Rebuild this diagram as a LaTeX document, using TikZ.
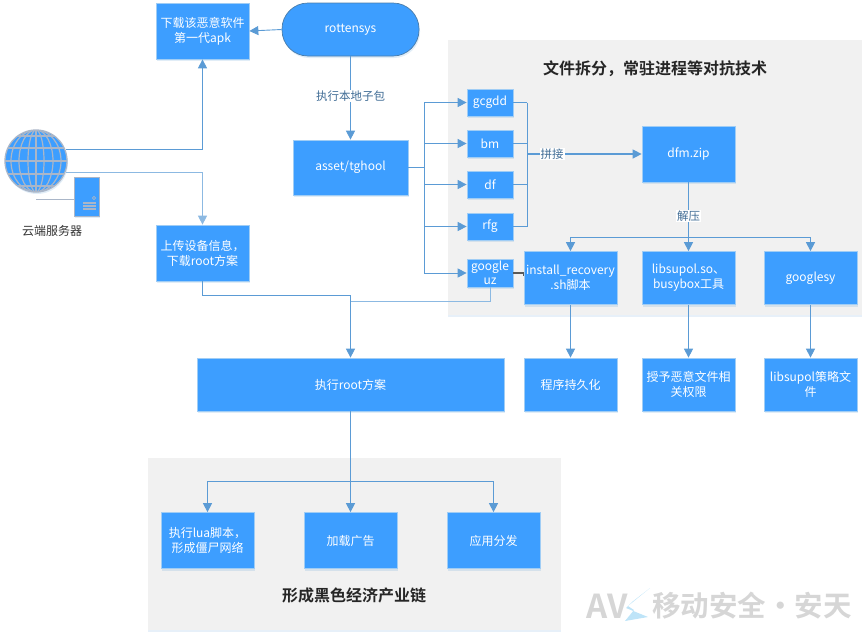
\documentclass[tikz,border=0pt]{standalone}
\usepackage{fontspec}
\setmainfont{Noto Sans CJK SC}[BoldFont={Noto Sans CJK SC Bold}]
\usetikzlibrary{arrows.meta,shadows}
\definecolor{boxblue}{RGB}{61,158,255}
\definecolor{boxedge}{RGB}{160,205,245}
\definecolor{linkblue}{RGB}{91,155,213}
\definecolor{panelgrey}{RGB}{241,241,241}
\definecolor{markgrey}{RGB}{214,214,214}
\definecolor{markblue}{RGB}{190,228,248}
\definecolor{globeline}{RGB}{170,182,200}
\tikzset{
  softshadow/.style={drop shadow={shadow xshift=1pt,shadow yshift=-2pt,opacity=.18,fill=linkblue}},
  bluebox/.style={draw=boxedge,line width=.7pt,fill=boxblue,text=white,inner sep=0pt,align=center,font=\fontsize{12}{15}\selectfont,softshadow},
  bigbox/.style={bluebox,minimum width=93pt,minimum height=56pt},
  medbox/.style={bluebox,minimum width=93pt,minimum height=53pt},
  smallbox/.style={bluebox,minimum width=46pt,minimum height=27pt},
  panel/.style={fill=panelgrey,draw=none,drop shadow={shadow xshift=0pt,shadow yshift=-2pt,opacity=.15,fill=linkblue}},
  link/.style={draw=linkblue,line width=.9pt},
  arrowlink/.style={link,-{Triangle[length=9pt,width=9pt]}},
  linklabel/.style={fill=white,inner sep=1pt,text=linkblue!70!black,font=\fontsize{11.5}{14}\selectfont},
  paneltitle/.style={font=\bfseries\fontsize{16}{20}\selectfont,text=black!85},
}
\begin{document}
\begin{tikzpicture}[x=1pt,y=-1pt]
\useasboundingbox (0,0) rectangle (868,638);
% panels
\path[panel] (448,40) rectangle (862,315);
\path[panel] (148,458) rectangle (561,630);
\node[paneltitle] (title1) at (655,69) {文件拆分，常驻进程等对抗技术};
\node[paneltitle] (title2) at (354,595) {形成黑色经济产业链};

% watermark
\node[font=\bfseries\fontsize{33}{33}\selectfont,text=markgrey,inner sep=0pt] (markav) at (607,606) {AV};
\fill[markblue] (650,588) -- (632,602) -- (626,608) -- (648,617) -- (625,621) -- (634,610) -- (628,606) -- cycle;
\node[font=\bfseries\fontsize{28.5}{28.5}\selectfont,text=markgrey,inner sep=0pt] (marktext) at (752,606) {移动安全·安天};

% boxes
\node[bigbox] (apk) at (202.5,31) {下载该恶意软件\\第一代apk};
\node[bluebox,draw=linkblue!80!black,rounded corners=26pt,minimum width=137pt,minimum height=53pt] (rotten) at (350.5,29.5) {rottensys};
\node[bluebox,minimum width=115pt,minimum height=55pt] (asset) at (350.5,167.5) {asset/tghool};
\node[bigbox] (upload) at (202.5,253) {上传设备信息，\\下载root方案};
\node[smallbox] (gcgdd) at (490,102.5) {gcgdd};
\node[smallbox] (bm) at (490,143.5) {bm};
\node[smallbox] (df) at (490,184.5) {df};
\node[smallbox] (rfg) at (490,226.5) {rfg};
\node[smallbox,minimum height=28pt,font=\fontsize{12}{14}\selectfont] (guz) at (490,273) {google\\uz};
\node[bigbox] (dfm) at (688.5,154) {dfm.zip};
\node[medbox] (install) at (570.5,278) {install\_recovery\\.sh脚本};
\node[medbox] (libs) at (688.5,278) {libsupol.so、\\busybox工具};
\node[medbox] (gsy) at (810.5,278) {googlesy};
\node[medbox] (persist) at (570.5,384.5) {程序持久化};
\node[medbox] (grant) at (688.5,384.5) {授予恶意文件相\\关权限};
\node[medbox] (policy) at (810.5,384.5) {libsupol策略文\\件};
\node[bluebox,minimum width=307pt,minimum height=53pt] (root) at (350.5,384.5) {执行root方案};
\node[bigbox] (lua) at (207.5,540.5) {执行lua脚本，\\形成僵尸网络};
\node[bigbox] (ads) at (350.5,540.5) {加载广告};
\node[bigbox] (dist) at (493.5,540.5) {应用分发};

% globe
\node[circle,fill=boxblue,draw=globeline,line width=1.3pt,minimum size=62pt,inner sep=0pt,softshadow] (globe) at (36,161) {};
\begin{scope}
\clip (36,161) circle (31);
\foreach \rx in {8,17,25}{\draw[globeline,line width=1.2pt] (36,161) ellipse ({\rx} and 31);}
\draw[globeline,line width=1.2pt] (36,130) -- (36,192);
\foreach \yy in {136,148,161,174,186}{\draw[globeline,line width=1.2pt] (5,\yy) -- (67,\yy);}
\end{scope}

% server
\node[bluebox,draw=globeline,minimum width=25pt,minimum height=39pt] (server) at (86.5,196.5) {};
\draw[globeline,line width=.7pt] (94,198) circle (1.7);
\foreach \yy in {203,206,209}{\draw[globeline,line width=1.2pt] (83,\yy) -- (96,\yy);}
\coordinate (servertail) at (36,199.5);
\draw[globeline,line width=.7pt] (servertail) -- (server.west |- servertail);
\node[font=\fontsize{12}{15}\selectfont,text=black!80,inner sep=0pt] (cloud) at (52,231) {云端服务器};

% connectors
\coordinate (g1) at (66,149.5);
\coordinate (g2) at (66,172.5);
\draw[arrowlink] (g1) -| (apk.south);
\draw[arrowlink,draw=linkblue!70!white,line width=1.1pt] (g2) -| (upload.north);
\draw[arrowlink] (rotten.west) -- (apk.east);
\draw[arrowlink] (rotten.south) -- (asset.north) node[pos=.476,linklabel] (runlabel) {执行本地子包};

\coordinate (tl) at (424,167.5);
\draw[link] (asset.east) -- (tl);
\draw[link] (tl |- gcgdd.west) -- (tl |- guz.west);
\foreach \n in {gcgdd,bm,df,rfg,guz}{\draw[arrowlink] (tl |- \n.west) -- (\n.west);}

\coordinate (tr) at (527,154);
\foreach \n in {gcgdd,bm,df,rfg}{\draw[link] (\n.east) -- (tr |- \n.east);}
\draw[link] (tr |- gcgdd.east) -- (tr |- rfg.east);
\draw[arrowlink,line width=1.3pt] (tr) -- (dfm.west) node[pos=.22,linklabel,text=linkblue!70!black] (joinlabel) {拼接};

\coordinate (split) at (688.5,237);
\draw[arrowlink] (dfm.south) -- (libs.north) node[pos=.49,linklabel] (unziplabel) {解压};
\draw[arrowlink] (split) -| (install.north);
\draw[arrowlink] (split) -| (gsy.north);
\draw[arrowlink] (install.south) -- (persist.north);
\draw[arrowlink] (libs.south) -- (grant.north);
\draw[arrowlink] (gsy.south) -- (policy.north);

\draw[black!65,line width=1.2pt] (guz.east) -- (install.west |- guz.east) -- ++(0,3);
\coordinate (m1) at (350.5,295.5);
\coordinate (m2) at (350.5,301.5);
\draw[arrowlink] (upload.south) |- (m1) -- (root.north);
\draw[link,draw=linkblue!70!white] (guz.south) |- (m2);

\coordinate (split2) at (350.5,481);
\draw[arrowlink] (root.south) -- (ads.north);
\draw[arrowlink] (split2) -| (lua.north);
\draw[arrowlink] (split2) -| (dist.north);
\end{tikzpicture}
\end{document}
